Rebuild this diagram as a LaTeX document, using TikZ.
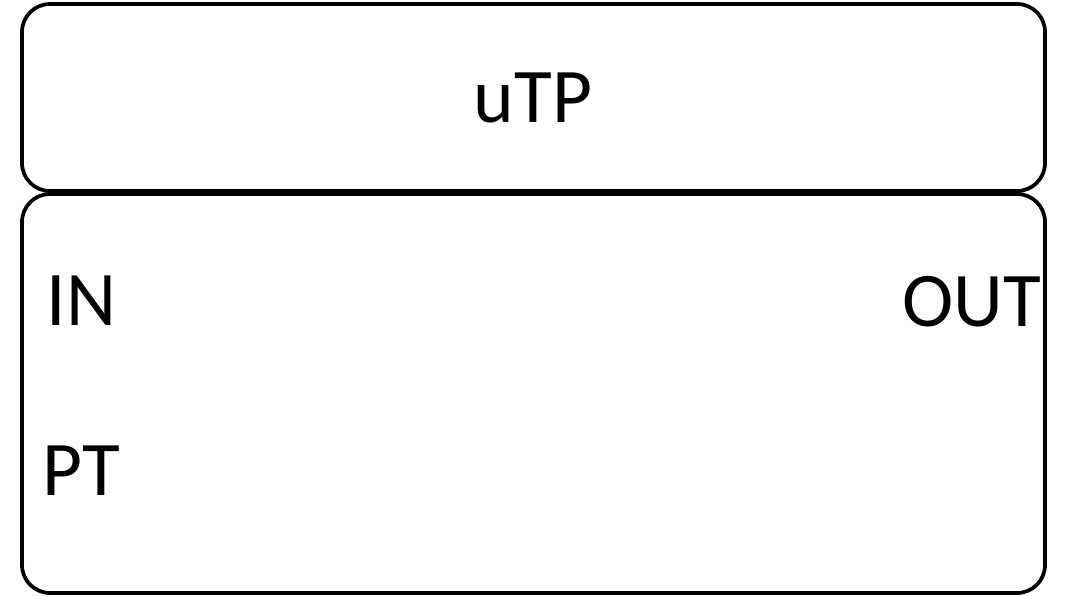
\documentclass[tikz,border=0pt]{standalone}
\usepackage{fontspec}
\setmainfont{Carlito}
\tikzset{every picture/.style={line width=2.8pt}}
\tikzset{lbl/.style={font=\fontsize{58}{70}\selectfont, inner sep=0pt}}

\begin{document}
\begin{tikzpicture}[x=0.75pt,y=0.75pt,yscale=-1,xscale=1]
	\useasboundingbox (0,0) rectangle (1085,596);

	%Rounded Rect [id:header]
	\draw [rounded corners=21pt]  (22,4) rectangle (1045,191) ;
	%Rounded Rect [id:body]
	\draw [rounded corners=21pt]  (22,194) rectangle (1045,593) ;

	% Text Node
	\node [lbl, anchor=base] (name) at (533,122) {uTP};
	% Text Node
	\node [lbl, anchor=base west] (in) at (45,325) {IN};
	% Text Node
	\node [lbl, anchor=base east] (out) at (1043,326) {OUT};
	% Text Node
	\node [lbl, anchor=base west] (pt) at (41,495) {PT};

\end{tikzpicture}
\end{document}
